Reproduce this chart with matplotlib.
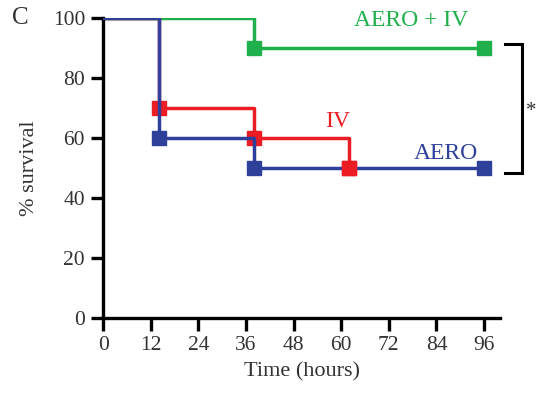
import matplotlib
matplotlib.use("Agg")
import matplotlib.pyplot as plt

plt.rcParams['font.family'] = ['Liberation Serif', 'DejaVu Serif']

# Data (Kaplan-Meier style step curves)
aero_iv_t = [0, 38, 96]
aero_iv_s = [100, 90, 90]
aero_iv_mt = [38, 96]
aero_iv_ms = [90, 90]

iv_t = [0, 14, 38, 62]
iv_s = [100, 70, 60, 50]
iv_mt = [14, 38, 62]
iv_ms = [70, 60, 50]

aero_t = [0, 14, 38, 96]
aero_s = [100, 60, 50, 50]
aero_mt = [14, 38, 96]
aero_ms = [60, 50, 50]

xticks = [0, 12, 24, 36, 48, 60, 72, 84, 96]
yticks = [0, 20, 40, 60, 80, 100]

GREEN = '#1fb04b'
RED = '#ec1c24'
BLUE = '#2e409a'
TXT = '#333333'

fig = plt.figure(figsize=(5.37, 3.97), dpi=100)
ax = fig.add_axes([0.192, 0.199, 0.739, 0.755])

lw = 2.5
ms = 9.5
ax.step(aero_iv_t, aero_iv_s, where='post', color=GREEN, lw=lw, zorder=2)
ax.plot(aero_iv_mt, aero_iv_ms, 's', color=GREEN, ms=ms, zorder=2)
ax.step(iv_t, iv_s, where='post', color=RED, lw=lw, zorder=2)
ax.plot(iv_mt, iv_ms, 's', color=RED, ms=ms, zorder=2)
ax.step(aero_t, aero_s, where='post', color=BLUE, lw=lw, zorder=3)
ax.plot(aero_mt, aero_ms, 's', color=BLUE, ms=ms, zorder=3)
ax.plot([62], [50], 's', color=RED, ms=ms, zorder=4)

ax.set_xlim(0, 100)
ax.set_ylim(0, 100)
ax.set_xticks(xticks)
ax.set_yticks(yticks)
for s in ['top', 'right']:
    ax.spines[s].set_visible(False)
for s in ['left', 'bottom']:
    ax.spines[s].set_linewidth(2.4)
ax.tick_params(axis='both', width=2.4, length=9, labelsize=15.5, labelcolor=TXT, pad=4)

ax.set_xlabel('Time (hours)', fontsize=16, color=TXT, labelpad=5)
ax.set_ylabel('% survival', fontsize=16, color=TXT, labelpad=10)

ax.text(77.5, 99.3, 'AERO + IV', color=GREEN, fontsize=17, ha='center', va='center')
ax.text(59, 65.5, 'IV', color=RED, fontsize=17, ha='center', va='center')
ax.text(86.5, 55, 'AERO', color=BLUE, fontsize=17, ha='center', va='center')

# significance bracket
ax.plot([101.3, 105.5, 105.5, 101.3], [91.5, 91.5, 48.3, 48.3], color='black', lw=2.2,
        clip_on=False, solid_joinstyle='miter')
ax.text(108.0, 69.0, '*', fontsize=15, color=TXT, ha='center', va='center', clip_on=False)

fig.text(0.038, 0.955, 'C', fontsize=18, color=TXT, ha='center', va='center')

fig.savefig('out.png', dpi=100)
